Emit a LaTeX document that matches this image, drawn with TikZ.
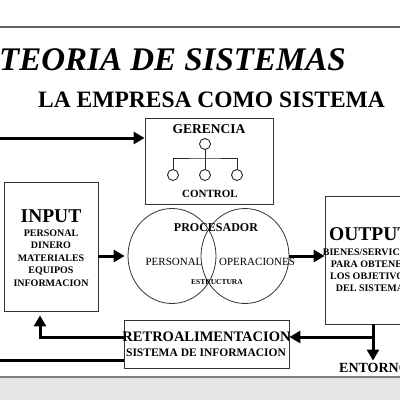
\documentclass[tikz,border=0pt]{standalone}
\usepackage{fontspec}
\setmainfont{Liberation Serif}
\usetikzlibrary{arrows.meta,positioning,shapes.geometric}

\begin{document}
\begin{tikzpicture}[x=1pt,y=-1pt,
  caja/.style={draw=black!80, line width=0.8pt, inner sep=0pt},
  nodito/.style={circle, draw=black!85, line width=0.9pt, minimum size=11pt, inner sep=0pt},
  esfera/.style={ellipse, draw=black!80, line width=0.8pt, minimum width=88pt, minimum height=95pt, inner sep=0pt},
  flecha/.style={-{Triangle[length=11pt,width=12pt]}, line width=3pt},
  grueso/.style={line width=3pt},
  txt/.style={font=\bfseries, inner sep=0pt, align=center}]
  % marco
  \useasboundingbox (0,0) rectangle (400,400);
  \clip (0,0) rectangle (400,400);
  \draw[line width=1.5pt, black!60] (0,27) -- (400,27);
  \fill[black!10] (0,377) rectangle (400,400);
  \draw[line width=2pt, black!50] (0,377) -- (400,377);
  % titulos
  \node[txt, font=\bfseries\itshape\fontsize{33}{36}\selectfont, anchor=base west] (titulo) at (-1,70) {TEORIA DE SISTEMAS};
  \node[txt, font=\bfseries\fontsize{23.5}{26}\selectfont, anchor=base west] (subtitulo) at (38,107) {LA EMPRESA COMO SISTEMA};
  % cajas
  \node[caja, minimum width=128pt, minimum height=86pt] (gerencia) at (209,161) {};
  \node[caja, minimum width=94pt, minimum height=129pt] (input) at (51,246.5) {};
  \node[caja, minimum width=96pt, minimum height=128pt] (output) at (373,260) {};
  \node[caja, minimum width=165pt, minimum height=48pt] (retro) at (206.5,344) {};
  \node[esfera] (procI) at (172,256) {};
  \node[esfera] (procD) at (245,256) {};
  % gerencia
  \node[txt, font=\bfseries\fontsize{13.5}{15}\selectfont] (gerTxt) at (209,129) {GERENCIA};
  \node[nodito] (n0) at (205,144) {};
  \node[nodito] (n1) at (173,175) {};
  \node[nodito] (n2) at (205,175) {};
  \node[nodito] (n3) at (237,175) {};
  \coordinate (barra) at (205,158);
  \draw[black!85, line width=0.9pt] (n0) -- (n2);
  \draw[black!85, line width=0.9pt] (n1) |- (barra) -| (n3);
  \node[txt, font=\bfseries\fontsize{11}{12}\selectfont] (control) at (210,194) {CONTROL};
  % input
  \node[txt, font=\bfseries\fontsize{19.5}{22}\selectfont] (inTit) at (51,216) {INPUT};
  \node[txt, font=\bfseries\fontsize{10}{12.5}\selectfont] (inLista) at (51,258) {PERSONAL\\DINERO\\MATERIALES\\EQUIPOS\\INFORMACION};
  % procesador
  \node[txt, font=\bfseries\fontsize{12}{14}\selectfont] (procTit) at (216,228) {PROCESADOR};
  \node[txt, font=\fontsize{11}{13}\selectfont] (personal) at (174,262) {PERSONAL};
  \node[txt, font=\fontsize{11}{13}\selectfont] (operac) at (257,262) {OPERACIONES};
  \node[txt, font=\bfseries\fontsize{7.5}{9}\selectfont] (estruc) at (217,282) {ESTRUCTURA};
  % output
  \node[txt, font=\bfseries\fontsize{19.5}{22}\selectfont, anchor=base west] (outTit) at (329,240) {OUTPUT};
  \node[txt, font=\bfseries\fontsize{10}{12}\selectfont] (outLista) at (370,270) {BIENES/SERVICIOS\\PARA OBTENER\\LOS OBJETIVOS\\DEL SISTEMA};
  % retroalimentacion
  \node[txt, font=\bfseries\fontsize{14.5}{16}\selectfont] (retroTit) at (206.5,337) {RETROALIMENTACION};
  \node[txt, font=\bfseries\fontsize{11.5}{13}\selectfont] (retroSub) at (206,353) {SISTEMA DE INFORMACION};
  \node[txt, font=\bfseries\fontsize{14}{16}\selectfont, anchor=base west] (entorno) at (339,372) {ENTORNO};
  % conexiones
  \coordinate (izq) at (0,138);
  \coordinate (nudo) at (373,337);
  \coordinate (esq) at (40,337);
  \coordinate (salida) at (0,360);
  \draw[flecha] (izq) -- (izq -| gerencia.west);
  \draw[flecha, shorten >=3pt] (input.east |- procI.west) -- (procI.west);
  \draw[flecha] (procD.east) -- (procD.east -| output.west);
  \draw[grueso] (output.south) -- (nudo);
  \draw[flecha] (nudo) -- (nudo -| retro.east);
  \draw[flecha, shorten >=2pt] (nudo) -- (entorno.north -| nudo);
  \draw[flecha, shorten >=4pt] (nudo -| retro.west) -- (esq) -- (esq |- input.south);
  \draw[grueso] (salida -| retro.west) -- (salida);
\end{tikzpicture}
\end{document}
